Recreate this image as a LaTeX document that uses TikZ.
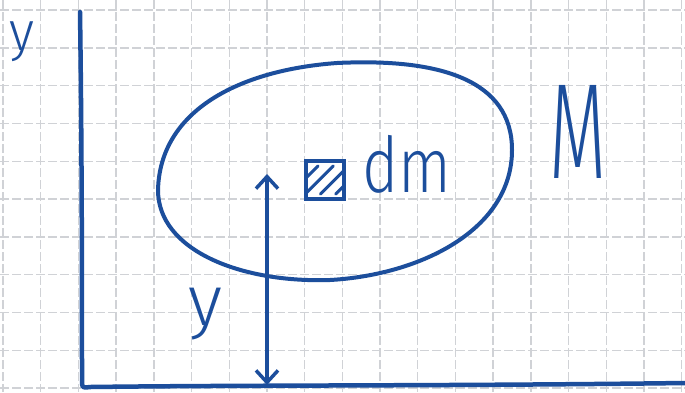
\documentclass[tikz,border=0pt]{standalone}
\usepackage{fontspec}
\usepackage{graphicx}
\setmainfont{Fira Sans}
\newfontfamily\handfont{Fira Sans Light}
\usetikzlibrary{arrows.meta}
\definecolor{pen}{RGB}{28,78,156}
\definecolor{gridc}{RGB}{208,210,214}
\tikzset{
  gridline/.style={gridc, line width=1.4pt, dash pattern=on 9pt off 3pt},
  penline/.style={pen, line width=4pt, line cap=round, line join=round},
  hand/.style={pen, inner sep=0pt, anchor=center, font=\handfont},
  hatchbox/.style={draw=pen, line width=3.5pt, minimum size=38pt, inner sep=0pt,
    path picture={
      \foreach \c in {-0.55,-0.15,0.25,0.65}{
        \draw[pen, line width=3pt, line cap=round]
          ([xshift=\c*38pt-14pt, yshift=-14pt]path picture bounding box.center) --
          ([xshift=\c*38pt+14pt, yshift=14pt]path picture bounding box.center);}
    }}
}
\begin{document}
\begin{tikzpicture}[x=1pt,y=-1pt]
\useasboundingbox (0,0) rectangle (685,392);
\fill[white] (0,0) rectangle (685,392);
% grid
\foreach \k in {0,...,18}{
  \draw[gridline] ({3+37.7*\k},0) -- ({3+37.7*\k},392);}
\foreach \k in {0,...,10}{
  \draw[gridline] (0,{10+37.8*\k}) -- (685,{10+37.8*\k});}
% axes
\coordinate (ytopax) at (80,12);
\coordinate (origin) at (83,387);
\coordinate (xend) at (685,383);
\draw[penline, line width=4.5pt] (ytopax) .. controls (82,150) and (82,300) .. (82,380)
  .. controls (82,388) .. (90,387) .. controls (250,385) and (450,386) .. (xend);
% body M
\draw[penline] (158,190) .. controls (160,110) and (240,70) .. (337,63)
  .. controls (440,58) and (512,80) .. (512,150)
  .. controls (512,230) and (420,275) .. (330,280)
  .. controls (240,283) and (158,250) .. cycle;
% element dm
\node[hatchbox] (sq) at (325,180) {};
\node[hand] (dm) at (407,164) {\resizebox*{89pt}{58pt}{dm}};
\node[hand] (M) at (578,132) {\resizebox*{57pt}{93pt}{M}};
\node[hand] (ylab) at (22,42) {\resizebox*{25pt}{40pt}{y}};
\node[hand] (yh) at (205,314) {\resizebox*{34pt}{52pt}{y}};
% height arrow
\coordinate (atop) at (267,174);
\coordinate (abot) at (267,385);
\draw[penline, line width=3.5pt, {Straight Barb[length=12pt,width=22pt]}-{Straight Barb[length=12pt,width=22pt]}] (abot) -- (atop);
\end{tikzpicture}
\end{document}
